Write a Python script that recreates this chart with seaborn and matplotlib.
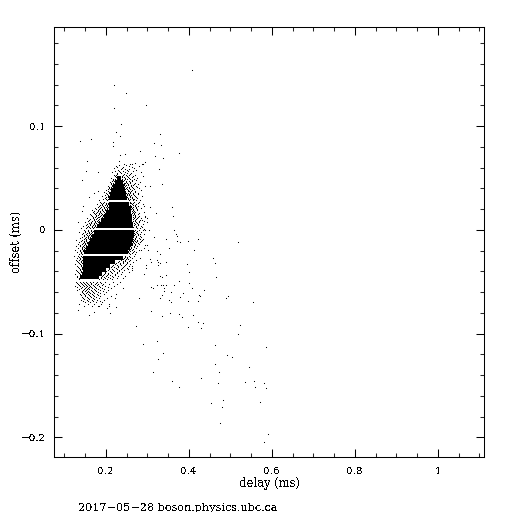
import pandas as pd
import seaborn as sns
import matplotlib.pyplot as plt

# isolated points
delay_sparse = [0.360, 0.362, 0.321, 0.365, 0.369, 0.372, 0.372, 0.379, 0.398, 0.422, 0.519, 0.344, 0.316, 0.353,
                0.413, 0.324, 0.331, 0.459, 0.463, 0.396, 0.401, 0.466, 0.345, 0.331, 0.336, 0.377, 0.401, 0.338,
                0.333, 0.324, 0.345, 0.365, 0.309, 0.314, 0.340, 0.408, 0.340, 0.437, 0.357, 0.386, 0.336, 0.331,
                0.379, 0.425, 0.427, 0.495, 0.490, 0.280, 0.353, 0.357, 0.398, 0.422, 0.555, 0.309, 0.336, 0.355,
                0.377, 0.384, 0.410, 0.422, 0.434, 0.398, 0.430, 0.524, 0.273, 0.519, 0.290, 0.324, 0.463, 0.586,
                0.338, 0.492, 0.504, 0.326, 0.463, 0.545, 0.314, 0.473, 0.430, 0.360, 0.471, 0.536, 0.557, 0.581,
                0.377, 0.560, 0.586, 0.483, 0.454, 0.572, 0.480, 0.475, 0.591, 0.581,
                0.324, 0.309, 0.326, 0.331, 0.326, 0.344, 0.307, 0.297, 0.297, 0.292, 0.263, 0.263, 0.302, 0.285,
                0.295, 0.299, 0.283, 0.290, 0.304, 0.292, 0.282, 0.284, 0.284, 0.290, 0.275, 0.306, 0.292, 0.299,
                0.294, 0.287, 0.292, 0.287,
                0.407, 0.219, 0.248, 0.296, 0.219, 0.236, 0.224, 0.234, 0.164, 0.330, 0.137, 0.217, 0.217, 0.316,
                0.333, 0.282, 0.376, 0.318, 0.337, 0.246, 0.234, 0.154, 0.231, 0.258, 0.294, 0.289, 0.270, 0.328,
                0.181, 0.152, 0.142, 0.335, 0.306, 0.181, 0.171, 0.159, 0.359, 0.145, 0.142, 0.133,
                0.133, 0.159, 0.171, 0.183, 0.202, 0.207, 0.210, 0.224, 0.222]
offset_sparse = [0.0219, 0.0132, 0.0161, -0.0003, -0.0041, -0.0061, -0.0109, -0.0118, -0.0109, -0.0090, -0.0118,
                 -0.0090, -0.0070, -0.0176, -0.0196, -0.0205, -0.0234, -0.0273, -0.0321, -0.0330, -0.0407, -0.0456,
                 -0.0436, -0.0446, -0.0456, -0.0494, -0.0513, -0.0527, -0.0533, -0.0533, -0.0533, -0.0533, -0.0552,
                 -0.0561, -0.0561, -0.0561, -0.0590, -0.0581, -0.0600, -0.0610, -0.0629, -0.0658, -0.0648, -0.0629,
                 -0.0638, -0.0638, -0.0658, -0.0658, -0.0677, -0.0696, -0.0687, -0.0687, -0.0696, -0.0783, -0.0831,
                 -0.0802, -0.0812, -0.0841, -0.0821, -0.0889, -0.0898, -0.0937, -0.0947, -0.0918, -0.0927, -0.1004,
                 -0.1101, -0.1072, -0.1110, -0.1130, -0.1187, -0.1207, -0.1226, -0.1245, -0.1293, -0.1322, -0.1370,
                 -0.1370, -0.1428, -0.1457, -0.1476, -0.1467, -0.1457, -0.1476, -0.1515, -0.1515, -0.1524, -0.1640,
                 -0.1669, -0.1659, -0.1707, -0.1861, -0.1967, -0.2044,
                 -0.0292, -0.0311, -0.0311, -0.0321, -0.0340, -0.0311, -0.0282, -0.0340, -0.0369, -0.0427, -0.0350,
                 -0.0369, -0.0196, -0.0196, -0.0147, -0.0147, -0.0273, 0.0, -0.0003, 0.0007, -0.0041, -0.0070,
                 -0.0103, -0.0090, -0.0109, 0.0219, 0.0234, 0.0113, 0.0122, 0.0093, 0.0084, 0.0026,
                 0.1541, 0.1396, 0.1319, 0.1204, 0.1175, 0.1021, 0.0944, 0.0905, 0.0876, 0.0924, 0.0857, 0.0847,
                 0.0809, 0.0838, 0.0819, 0.0761, 0.0742, 0.0713, 0.0693, 0.0732, 0.0722, 0.0664, 0.0664, 0.0636,
                 0.0655, 0.0636, 0.0645, 0.0587, 0.0559, 0.0568, 0.0482, 0.0443, 0.0424, 0.0376, 0.0356, 0.0318,
                 0.0221, 0.0231, 0.0183, 0.0077,
                 -0.0770, -0.0819, -0.0790, -0.0732, -0.0751, -0.0732, -0.0799, -0.0742, -0.0655]

# scatter around the dense part, one offset with the delays seen at it
fringe_offset = [0.0636, 0.0616, 0.0597, 0.0578, 0.0559, 0.0539, 0.0520, 0.0501, 0.0482, 0.0462, 0.0443, 0.0424,
                 0.0404, 0.0385, 0.0366, 0.0347, 0.0327, 0.0308, 0.0289, 0.0270, 0.0250, 0.0231, 0.0212, 0.0193,
                 0.0173, 0.0154, 0.0135, 0.0116, 0.0096, 0.0077, 0.0058, 0.0039, 0.0019, 0.0, -0.0019, -0.0039,
                 -0.0058, -0.0077, -0.0096, -0.0116, -0.0135, -0.0154, -0.0173, -0.0193, -0.0212, -0.0231, -0.0250,
                 -0.0270, -0.0289, -0.0308, -0.0327, -0.0347, -0.0366, -0.0385, -0.0404, -0.0424, -0.0443, -0.0462,
                 -0.0501, -0.0520, -0.0539, -0.0559, -0.0578, -0.0597, -0.0616, -0.0636, -0.0655, -0.0674, -0.0693,
                 -0.0713, -0.0732]
fringe_delay = [
    [0.243, 0.262, 0.287], [0.224, 0.255, 0.279], [0.219, 0.238, 0.268], [0.229, 0.250, 0.272],
    [0.214, 0.233, 0.246, 0.284], [0.226, 0.243, 0.258], [0.221, 0.238, 0.251, 0.265, 0.289],
    [0.212, 0.246, 0.256, 0.275], [0.217, 0.243, 0.262, 0.272], [0.209, 0.248, 0.258, 0.281],
    [0.212, 0.243, 0.253, 0.267, 0.277], [0.205, 0.214, 0.246, 0.260, 0.272, 0.294],
    [0.207, 0.248, 0.255, 0.265, 0.279], [0.200, 0.212, 0.243, 0.253, 0.262, 0.284],
    [0.195, 0.207, 0.246, 0.258, 0.270], [0.202, 0.209, 0.250, 0.255, 0.265, 0.277],
    [0.190, 0.205, 0.248, 0.258, 0.270, 0.287], [0.198, 0.207, 0.253, 0.262, 0.275],
    [0.183, 0.202, 0.255, 0.265, 0.272, 0.282], [0.186, 0.195, 0.207, 0.258, 0.267, 0.279],
    [0.178, 0.190, 0.200, 0.205, 0.262, 0.272, 0.289], [0.183, 0.193, 0.202, 0.260, 0.270, 0.277],
    [0.173, 0.186, 0.195, 0.202, 0.262, 0.272, 0.284], [0.166, 0.181, 0.190, 0.198, 0.205, 0.265, 0.275],
    [0.169, 0.178, 0.186, 0.195, 0.202, 0.265, 0.270, 0.291], [0.161, 0.173, 0.183, 0.190, 0.198, 0.267, 0.277],
    [0.166, 0.176, 0.186, 0.193, 0.270, 0.279, 0.294], [0.154, 0.169, 0.178, 0.188, 0.267, 0.275, 0.284],
    [0.159, 0.171, 0.181, 0.187, 0.270, 0.282], [0.149, 0.164, 0.173, 0.181, 0.186, 0.272, 0.279, 0.299],
    [0.154, 0.161, 0.171, 0.178, 0.270, 0.277, 0.289], [0.145, 0.157, 0.166, 0.173, 0.181, 0.272, 0.284],
    [0.140, 0.152, 0.161, 0.169, 0.275, 0.282], [0.147, 0.157, 0.164, 0.270, 0.279, 0.294],
    [0.135, 0.149, 0.159, 0.166, 0.272, 0.284], [0.142, 0.152, 0.161, 0.270, 0.277, 0.291],
    [0.147, 0.157, 0.164, 0.272, 0.282], [0.137, 0.149, 0.157, 0.270, 0.279],
    [0.128, 0.142, 0.152, 0.267, 0.275, 0.287], [0.135, 0.147, 0.154, 0.265, 0.272, 0.282],
    [0.132, 0.142, 0.149, 0.262, 0.270, 0.279], [0.127, 0.137, 0.145, 0.152, 0.258, 0.267, 0.275],
    [0.133, 0.142, 0.149, 0.260, 0.272, 0.292], [0.125, 0.137, 0.145, 0.255, 0.262, 0.279],
    [0.130, 0.140, 0.147, 0.253, 0.265, 0.272], [0.135, 0.142, 0.258, 0.270],
    [0.123, 0.133, 0.140, 0.147, 0.246, 0.255, 0.267], [0.130, 0.137, 0.145, 0.243, 0.251, 0.262],
    [0.128, 0.135, 0.142, 0.236, 0.246, 0.258, 0.272], [0.133, 0.140, 0.229, 0.241, 0.251, 0.265],
    [0.125, 0.137, 0.144, 0.221, 0.234, 0.248, 0.258], [0.130, 0.140, 0.214, 0.229, 0.243, 0.255],
    [0.135, 0.142, 0.207, 0.224, 0.238, 0.250], [0.128, 0.137, 0.205, 0.217, 0.231, 0.243, 0.262],
    [0.133, 0.140, 0.198, 0.212, 0.226, 0.239, 0.255], [0.125, 0.137, 0.144, 0.195, 0.205, 0.221, 0.236],
    [0.130, 0.140, 0.190, 0.200, 0.214, 0.229, 0.246], [0.135, 0.142, 0.188, 0.198, 0.209, 0.226, 0.241],
    [0.128, 0.137, 0.145, 0.152, 0.161, 0.169, 0.178, 0.186, 0.198, 0.217, 0.234],
    [0.133, 0.142, 0.149, 0.157, 0.164, 0.173, 0.181, 0.193, 0.207, 0.226],
    [0.125, 0.137, 0.147, 0.154, 0.161, 0.171, 0.183, 0.198, 0.219],
    [0.140, 0.149, 0.157, 0.166, 0.176, 0.190, 0.212, 0.241], [0.130, 0.145, 0.152, 0.164, 0.173, 0.186, 0.205],
    [0.142, 0.154, 0.159, 0.169, 0.181, 0.200], [0.137, 0.147, 0.157, 0.166, 0.178, 0.195, 0.224],
    [0.149, 0.161, 0.171, 0.186, 0.212], [0.145, 0.157, 0.169, 0.183, 0.202], [0.140, 0.154, 0.166, 0.178, 0.195],
    [0.149, 0.161, 0.176, 0.190], [0.135, 0.157, 0.171, 0.188, 0.207], [0.147, 0.166, 0.181],
]

# the thicker speckle right next to the solid part
speckle_offset = [0.0625, 0.0606, 0.0587, 0.0568, 0.0549, 0.0530, 0.0510, 0.0491, 0.0472, 0.0453, 0.0433, 0.0414,
                  0.0395, 0.0376, 0.0356, 0.0337, 0.0318, 0.0299, 0.0260, 0.0241, 0.0222, 0.0202, 0.0183, 0.0164,
                  0.0144, 0.0125, 0.0106, 0.0087, 0.0067, 0.0048, 0.0029, -0.0011, -0.0030, -0.0049, -0.0069,
                  -0.0088, -0.0107, -0.0126, -0.0145, -0.0165, -0.0184, -0.0203, -0.0222, -0.0261, -0.0280, -0.0299,
                  -0.0319, -0.0338, -0.0357, -0.0376, -0.0396, -0.0415, -0.0434, -0.0453, -0.0472, -0.0511, -0.0530,
                  -0.0549, -0.0568, -0.0588, -0.0607, -0.0626, -0.0645, -0.0665, -0.0684]
speckle_delay = [
    [0.232, 0.248], [0.227, 0.241, 0.262], [0.236, 0.246, 0.256], [0.222, 0.231, 0.241, 0.253, 0.265],
    [0.227, 0.236, 0.250, 0.260], [0.219, 0.224, 0.241, 0.248, 0.255, 0.270], [0.224, 0.238, 0.243, 0.253, 0.262],
    [0.217, 0.222, 0.239, 0.245, 0.250, 0.258, 0.267], [0.214, 0.219, 0.241, 0.248, 0.255, 0.262],
    [0.211, 0.217, 0.243, 0.246, 0.251, 0.258, 0.269], [0.214, 0.243, 0.248, 0.253, 0.260, 0.265],
    [0.207, 0.212, 0.216, 0.244, 0.250, 0.256, 0.262, 0.274], [0.204, 0.210, 0.246, 0.251, 0.258, 0.267],
    [0.206, 0.212, 0.247, 0.252, 0.256, 0.261, 0.270], [0.200, 0.208, 0.248, 0.253, 0.258, 0.264, 0.276],
    [0.197, 0.204, 0.210, 0.250, 0.255, 0.260, 0.267], [0.200, 0.206, 0.251, 0.257, 0.263, 0.272],
    [0.193, 0.199, 0.205, 0.252, 0.258, 0.264, 0.268], [0.188, 0.193, 0.199, 0.205, 0.257, 0.261, 0.266, 0.276],
    [0.185, 0.191, 0.197, 0.203, 0.208, 0.258, 0.264, 0.270], [0.180, 0.188, 0.194, 0.200, 0.205, 0.260, 0.265, 0.272],
    [0.177, 0.184, 0.191, 0.197, 0.203, 0.207, 0.260, 0.266, 0.274],
    [0.172, 0.180, 0.186, 0.193, 0.199, 0.203, 0.262, 0.268],
    [0.170, 0.177, 0.184, 0.189, 0.197, 0.201, 0.262, 0.267, 0.279],
    [0.165, 0.175, 0.181, 0.187, 0.192, 0.198, 0.264, 0.270],
    [0.168, 0.173, 0.180, 0.184, 0.190, 0.195, 0.264, 0.269, 0.276],
    [0.162, 0.170, 0.176, 0.182, 0.187, 0.192, 0.266, 0.272],
    [0.157, 0.167, 0.174, 0.179, 0.184, 0.189, 0.265, 0.270, 0.280],
    [0.160, 0.165, 0.171, 0.176, 0.182, 0.186, 0.267, 0.274], [0.152, 0.162, 0.168, 0.173, 0.178, 0.183, 0.268, 0.278],
    [0.155, 0.160, 0.166, 0.171, 0.176, 0.266, 0.272], [0.150, 0.157, 0.163, 0.168, 0.172, 0.268, 0.275],
    [0.145, 0.154, 0.160, 0.164, 0.170, 0.267, 0.274], [0.148, 0.155, 0.160, 0.165, 0.268, 0.277],
    [0.143, 0.151, 0.156, 0.162, 0.266, 0.272], [0.146, 0.152, 0.158, 0.163, 0.265, 0.270, 0.283],
    [0.140, 0.148, 0.153, 0.159, 0.264, 0.269], [0.144, 0.150, 0.155, 0.262, 0.268, 0.278],
    [0.138, 0.146, 0.151, 0.156, 0.263, 0.270], [0.141, 0.147, 0.152, 0.256, 0.261, 0.268],
    [0.143, 0.148, 0.153, 0.257, 0.264], [0.137, 0.144, 0.150, 0.252, 0.259, 0.268], [0.140, 0.146, 0.251, 0.256, 0.263],
    [0.135, 0.142, 0.148, 0.245, 0.250, 0.257], [0.138, 0.144, 0.241, 0.248, 0.254],
    [0.131, 0.140, 0.146, 0.232, 0.240, 0.247, 0.255], [0.136, 0.143, 0.225, 0.233, 0.242, 0.250],
    [0.139, 0.145, 0.218, 0.226, 0.236, 0.245], [0.133, 0.141, 0.212, 0.220, 0.230, 0.240],
    [0.137, 0.143, 0.207, 0.214, 0.226, 0.236, 0.252], [0.130, 0.139, 0.201, 0.209, 0.219, 0.231],
    [0.135, 0.142, 0.197, 0.204, 0.214, 0.227], [0.138, 0.192, 0.202, 0.209, 0.222],
    [0.131, 0.139, 0.187, 0.194, 0.205, 0.218], [0.134, 0.184, 0.192, 0.202, 0.214],
    [0.131, 0.140, 0.148, 0.155, 0.165, 0.175, 0.188], [0.135, 0.144, 0.152, 0.160, 0.168, 0.178, 0.190],
    [0.130, 0.142, 0.151, 0.159, 0.163, 0.174, 0.186, 0.204], [0.136, 0.146, 0.154, 0.160, 0.170, 0.181, 0.195],
    [0.141, 0.149, 0.157, 0.167, 0.177, 0.193], [0.145, 0.152, 0.162, 0.172, 0.185], [0.139, 0.150, 0.160, 0.169, 0.181],
    [0.143, 0.155, 0.165, 0.177], [0.148, 0.160, 0.172], [0.144, 0.156, 0.168, 0.185],
]

# the solid black part, too many points to separate, so fewer and bigger ones
core_offset = [0.0495, 0.0457, 0.0418, 0.0380, 0.0341, 0.0310, 0.0249, 0.0211, 0.0172, 0.0134, 0.0095, 0.0057,
               0.0038, -0.0020, -0.0059, -0.0097, -0.0136, -0.0174, -0.0213, -0.0271, -0.0309, -0.0348, -0.0386,
               -0.0425, -0.0454]
core_delay = [
    [0.231], [0.227, 0.236], [0.222, 0.231, 0.238], [0.217, 0.227, 0.236, 0.241], [0.214, 0.224, 0.234, 0.243],
    [0.212, 0.222, 0.231, 0.241, 0.246], [0.212, 0.222, 0.231, 0.241, 0.251],
    [0.212, 0.222, 0.231, 0.241, 0.251, 0.256], [0.205, 0.214, 0.224, 0.234, 0.243, 0.253, 0.256],
    [0.200, 0.210, 0.219, 0.229, 0.239, 0.248, 0.258], [0.195, 0.205, 0.214, 0.224, 0.234, 0.243, 0.253, 0.258],
    [0.188, 0.198, 0.207, 0.217, 0.227, 0.236, 0.246, 0.256, 0.260],
    [0.183, 0.193, 0.202, 0.212, 0.222, 0.231, 0.241, 0.251, 0.260],
    [0.176, 0.186, 0.195, 0.205, 0.214, 0.224, 0.234, 0.243, 0.253, 0.262],
    [0.171, 0.181, 0.190, 0.200, 0.210, 0.219, 0.229, 0.239, 0.248, 0.258, 0.262],
    [0.166, 0.176, 0.186, 0.195, 0.205, 0.214, 0.224, 0.234, 0.243, 0.253, 0.260],
    [0.161, 0.171, 0.181, 0.190, 0.200, 0.210, 0.219, 0.229, 0.239, 0.248, 0.258],
    [0.157, 0.166, 0.176, 0.186, 0.195, 0.205, 0.214, 0.224, 0.234, 0.243, 0.253],
    [0.152, 0.161, 0.171, 0.181, 0.190, 0.200, 0.210, 0.219, 0.229, 0.239, 0.248],
    [0.149, 0.159, 0.169, 0.178, 0.188, 0.198, 0.207, 0.217, 0.227, 0.236],
    [0.149, 0.159, 0.169, 0.178, 0.188, 0.198, 0.207, 0.217],
    [0.149, 0.159, 0.169, 0.178, 0.188, 0.198, 0.205], [0.149, 0.159, 0.169, 0.178, 0.188, 0.196],
    [0.147, 0.157, 0.166, 0.176, 0.186], [0.142, 0.152, 0.161, 0.171, 0.179],
]

x_ticks = [0.2, 0.4, 0.6, 0.8, 1.0]
x_labels = ['0.2', '0.4', '0.6', '0.8', '1']
x_minor = [0.1, 0.15, 0.25, 0.3, 0.35, 0.45, 0.5, 0.55, 0.65, 0.7, 0.75, 0.85, 0.9, 0.95, 1.05, 1.1]
y_ticks = [-0.2, -0.1, 0, 0.1]
y_labels = ['\u22120.2', '\u22120.1', '0', '0.1']
y_minor = [-0.18, -0.16, -0.14, -0.12, -0.08, -0.06, -0.04, -0.02, 0.02, 0.04, 0.06, 0.08, 0.12, 0.14, 0.16, 0.18]


def expand(offsets, delays):
    rows = [(d, o) for o, ds in zip(offsets, delays) for d in ds]
    return pd.DataFrame(rows, columns=['delay', 'offset'])


sns.set_style('ticks')
plt.rcParams['font.family'] = ['DejaVu Serif']
plt.rcParams['text.antialiased'] = False

fig = plt.figure(figsize=(5.12, 5.12), dpi=100)
ax = fig.add_axes([54 / 512, 55 / 512, 430 / 512, 430 / 512])

sparse = pd.DataFrame({'delay': delay_sparse, 'offset': offset_sparse})
fringe = expand(fringe_offset, fringe_delay)
speckle = expand(speckle_offset, speckle_delay)
core = expand(core_offset, core_delay)

dots = dict(marker='s', color='black', linewidth=0, legend=False, ax=ax)
sns.scatterplot(data=core, x='delay', y='offset', s=9, **dots)
for points in [fringe, speckle, sparse]:
    sns.scatterplot(data=points, x='delay', y='offset', s=0.55, antialiased=False, snap=False, **dots)

ax.set_xlim(0.0747, 1.111)
ax.set_ylim(-0.2188, 0.1954)
ax.set_xticks(x_ticks, x_labels)
ax.set_yticks(y_ticks, y_labels)
ax.set_xticks(x_minor, minor=True)
ax.set_yticks(y_minor, minor=True)
ax.tick_params(which='major', direction='in', length=5.5, width=0.75, top=True, right=True,
               labelsize=7.5, pad=5.5, colors='black')
ax.tick_params(which='minor', direction='in', length=3.2, width=0.75, top=True, right=True)
ax.tick_params(axis='x', which='major', pad=7)
for spine in ax.spines.values():
    spine.set_linewidth(0.75)
    spine.set_color('black')

ax.set_xlabel('delay (ms)', fontsize=8.3, labelpad=1, color='black')
ax.set_ylabel('offset (ms)', fontsize=8.3, labelpad=-1, color='black')
fig.text(78 / 512, 1 / 512, '2017\u221205\u221228 boson.physics.ubc.ca', fontsize=8.1, color='black')

plt.savefig('out.png', dpi=100)
